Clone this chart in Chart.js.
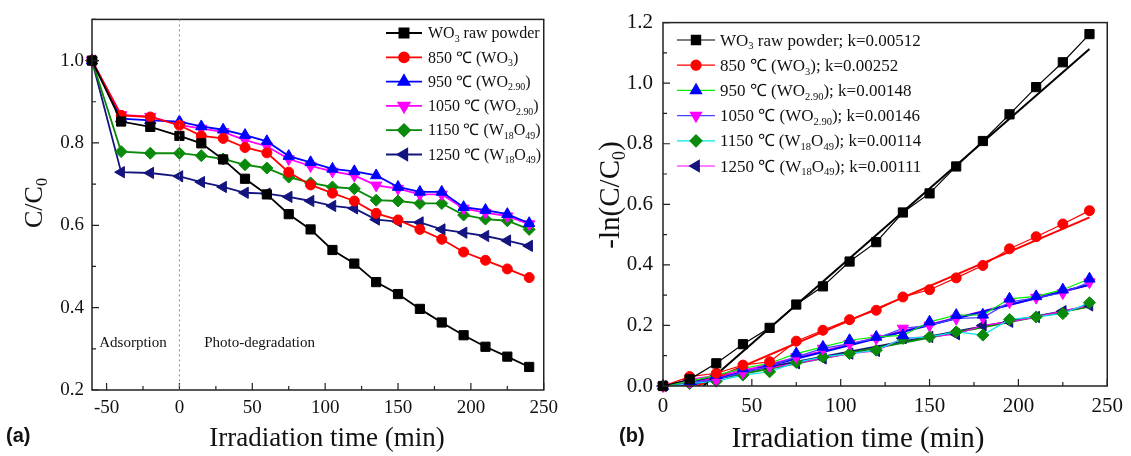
<!DOCTYPE html>
<html>
<head>
<meta charset="utf-8">
<script src="https://cdn.jsdelivr.net/npm/chart.js@4.4.1/dist/chart.umd.min.js"></script>
<style>
  html, body { margin: 0; padding: 0; background: #fff; }
  #wrap { position: relative; width: 1131px; height: 456px; overflow: hidden; }
  .panel { position: absolute; top: 0; height: 456px; }
  .tag { position: absolute; top: 424px; font: bold 20px "Liberation Sans", Arial, sans-serif; color: #111; }
</style>
</head>
<body>
<div id="wrap">
  <div class="panel" style="left:0;width:565px"><canvas id="chartA" width="565" height="456"></canvas></div>
  <div class="panel" style="left:565px;width:566px"><canvas id="chartB" width="566" height="456"></canvas></div>
  <div class="tag" style="left:6px">(a)</div>
  <div class="tag" style="left:619px">(b)</div>
</div>
<script>
// ---- data ----
const SERIF = '"Liberation Serif", "Times New Roman", serif';

// (a) C/C0 vs time, incl. 60 min dark adsorption
const timeA = [-60, -40, -20, 0, 15, 30, 45, 60, 75, 90, 105, 120, 135, 150, 165, 180, 195, 210, 225, 240];
const rawA   = [1.0, 0.852, 0.839, 0.817, 0.799, 0.760, 0.713, 0.675, 0.627, 0.590, 0.540, 0.507, 0.462, 0.433, 0.397, 0.364, 0.333, 0.305, 0.281, 0.256];
const c850A  = [1.0, 0.867, 0.863, 0.843, 0.817, 0.811, 0.789, 0.776, 0.729, 0.698, 0.678, 0.659, 0.629, 0.613, 0.590, 0.566, 0.535, 0.515, 0.494, 0.473];
const c950A  = [1.0, 0.859, 0.855, 0.852, 0.840, 0.832, 0.819, 0.804, 0.768, 0.753, 0.737, 0.731, 0.721, 0.693, 0.681, 0.681, 0.644, 0.637, 0.627, 0.605];
const c1050A = [1.0, 0.868, 0.864, 0.844, 0.835, 0.827, 0.807, 0.792, 0.761, 0.744, 0.731, 0.721, 0.697, 0.689, 0.675, 0.675, 0.641, 0.631, 0.622, 0.603];
const c1150A = [1.0, 0.779, 0.775, 0.775, 0.769, 0.761, 0.747, 0.739, 0.717, 0.703, 0.693, 0.689, 0.661, 0.659, 0.653, 0.653, 0.625, 0.615, 0.611, 0.590];
const c1250A = [1.0, 0.729, 0.727, 0.719, 0.705, 0.693, 0.679, 0.677, 0.669, 0.659, 0.647, 0.641, 0.614, 0.609, 0.607, 0.590, 0.582, 0.574, 0.563, 0.550];

// (b) -ln(C/C0) vs irradiation time
const timeB = [0, 15, 30, 45, 60, 75, 90, 105, 120, 135, 150, 165, 180, 195, 210, 225, 240];
const rawB   = [0, 0.022, 0.075, 0.138, 0.192, 0.269, 0.329, 0.411, 0.475, 0.573, 0.636, 0.725, 0.809, 0.897, 0.987, 1.069, 1.162];
const c850B  = [0, 0.031, 0.042, 0.069, 0.080, 0.148, 0.184, 0.219, 0.250, 0.294, 0.318, 0.357, 0.398, 0.453, 0.493, 0.535, 0.579];
const c950B  = [0, 0.015, 0.036, 0.058, 0.075, 0.107, 0.129, 0.151, 0.162, 0.167, 0.212, 0.234, 0.235, 0.288, 0.296, 0.318, 0.354];
const c1050B = [0, 0.012, 0.020, 0.045, 0.065, 0.096, 0.124, 0.140, 0.157, 0.190, 0.200, 0.223, 0.226, 0.277, 0.292, 0.307, 0.343];
const c1150B = [0, 0.008, 0.016, 0.036, 0.047, 0.078, 0.096, 0.107, 0.118, 0.157, 0.162, 0.179, 0.168, 0.220, 0.228, 0.239, 0.275];
const c1250B = [0, 0.022, 0.035, 0.055, 0.060, 0.075, 0.091, 0.107, 0.116, 0.158, 0.162, 0.171, 0.200, 0.212, 0.228, 0.247, 0.266];

// linear fits: slope k and intercept
const kValues = [0.00512, 0.00252, 0.00148, 0.00146, 0.00114, 0.00111];
const fitIntercepts = [-0.116, -0.048, -0.021, -0.016, -0.011, -0.003];
const fitRange = [0, 240];

const seriesNames = ['WO_{3} raw powder', '850 ℃ (WO_{3})', '950 ℃ (WO_{2.90})', '1050 ℃ (WO_{2.90})', '1150 ℃ (W_{18}O_{49})', '1250 ℃ (W_{18}O_{49})'];

const xTicksA = [-50, 0, 50, 100, 150, 200, 250];
const yTicksA = [0.2, 0.4, 0.6, 0.8, 1.0];
const xTicksB = [0, 50, 100, 150, 200, 250];
const yTicksB = [0, 0.2, 0.4, 0.6, 0.8, 1.0, 1.2];

// ---- styles ----
const markerColors = ['#000000', '#ff0000', '#0000ff', '#ff00ff', '#0a8a0a', '#14147f'];
const markerStyles = ['rect', 'circle', 'triangle', 'triangle', 'rectRot', 'triangle'];
const markerRot = [0, 0, 0, 180, 0, 270];
const markerSize = [6.5, 5, 6.5, 6.5, 6, 6.5];
const lineColorsB = ['#000000', '#ff0000', '#00ee00', '#4444ff', '#00e5e5', '#ff00ff'];

const plain = s => s.replace(/_\{([^}]*)\}/g, '$1');

function drawRich(ctx, str, x, y, size) {
  str.split(/(_\{[^}]*\})/).forEach(p => {
    if (!p) return;
    const sub = p.startsWith('_{');
    const t = sub ? p.slice(2, -1) : p;
    const fs = sub ? size * 0.62 : size;
    ctx.font = fs + 'px ' + SERIF;
    ctx.fillText(t, x, sub ? y + size * 0.22 : y);
    x += ctx.measureText(t).width;
  });
  return x;
}
function richWidth(ctx, str, size) {
  let w = 0;
  str.split(/(_\{[^}]*\})/).forEach(p => {
    if (!p) return;
    const sub = p.startsWith('_{');
    const t = sub ? p.slice(2, -1) : p;
    ctx.font = (sub ? size * 0.62 : size) + 'px ' + SERIF;
    w += ctx.measureText(t).width;
  });
  return w;
}
function mids(arr) {
  const out = [];
  for (let i = 0; i < arr.length - 1; i++) out.push((arr[i] + arr[i + 1]) / 2);
  return out;
}

// frame, inward ticks, legend, titles, notes
const decor = {
  id: 'decor',
  afterDatasetsDraw(chart, args, o) {
    const {ctx, chartArea: a, scales: {x, y}} = chart;
    ctx.save();
    ctx.strokeStyle = '#222';
    ctx.lineWidth = 1.5;
    ctx.strokeRect(a.left, a.top, a.right - a.left, a.bottom - a.top);
    ctx.lineWidth = 1.2;
    ctx.beginPath();
    o.xMajor.forEach(v => { const p = x.getPixelForValue(v); ctx.moveTo(p, a.bottom); ctx.lineTo(p, a.bottom - 7); });
    mids(o.xMajor).forEach(v => { const p = x.getPixelForValue(v); ctx.moveTo(p, a.bottom); ctx.lineTo(p, a.bottom - 4); });
    o.yMajor.forEach(v => { const p = y.getPixelForValue(v); ctx.moveTo(a.left, p); ctx.lineTo(a.left + 7, p); });
    mids(o.yMajor.concat(o.yExtra || [])).forEach(v => { const p = y.getPixelForValue(v); ctx.moveTo(a.left, p); ctx.lineTo(a.left + 4, p); });
    ctx.stroke();

    // legend
    const L = o.legend;
    ctx.textBaseline = 'alphabetic';
    ctx.textAlign = 'left';
    chart.data.datasets.filter(d => d.legendText).forEach((d, i) => {
      const cy = L.y + i * L.dy;
      ctx.strokeStyle = d.legendLine || d.borderColor;
      ctx.lineWidth = L.lineWidth;
      ctx.beginPath();
      ctx.moveTo(L.x, cy);
      ctx.lineTo(L.x + L.len, cy);
      ctx.stroke();
      ctx.fillStyle = d.pointBackgroundColor;
      ctx.strokeStyle = d.pointBorderColor;
      Chart.helpers.drawPoint(ctx, {pointStyle: d.pointStyle, rotation: d.pointRotation, radius: d.pointRadius, borderWidth: 1}, L.x + L.len / 2, cy);
      ctx.fillStyle = '#111';
      drawRich(ctx, d.legendText, L.x + L.len + L.gap, cy + L.size * 0.33, L.size);
    });

    // axis titles
    ctx.fillStyle = '#111';
    o.titles.forEach(t => {
      ctx.save();
      ctx.translate(t.cx, t.cy);
      ctx.rotate(t.rot || 0);
      drawRich(ctx, t.text, -richWidth(ctx, t.text, t.size) / 2, t.size * 0.33, t.size);
      ctx.restore();
    });

    // notes in data space
    (o.notes || []).forEach(n => {
      ctx.font = n.size + 'px ' + SERIF;
      ctx.fillText(n.text, x.getPixelForValue(n.x), y.getPixelForValue(n.y));
    });
    if (o.divider !== undefined) {
      const p = x.getPixelForValue(o.divider);
      ctx.strokeStyle = '#888';
      ctx.lineWidth = 1;
      ctx.setLineDash([2, 3]);
      ctx.beginPath();
      ctx.moveTo(p, a.top);
      ctx.lineTo(p, a.bottom);
      ctx.stroke();
    }
    ctx.restore();
  }
};

function pts(xs, ys) { return xs.map((t, i) => ({x: t, y: ys[i]})); }

function axes(xr, yr, xt, yt, yW, xH, fs, pad) {
  return {
    x: {
      type: 'linear', min: xr[0], max: xr[1],
      grid: {display: false, drawTicks: false}, border: {display: false},
      ticks: {color: '#111', font: {family: SERIF, size: fs}, padding: pad[0], maxRotation: 0, callback: v => String(v)},
      afterBuildTicks: s => { s.ticks = xt.map(v => ({value: v})); },
      afterFit: s => { s.height = xH; }
    },
    y: {
      type: 'linear', min: yr[0], max: yr[1],
      grid: {display: false, drawTicks: false}, border: {display: false},
      ticks: {color: '#111', font: {family: SERIF, size: fs}, padding: pad[1], callback: v => v.toFixed(1)},
      afterBuildTicks: s => { s.ticks = yt.map(v => ({value: v})); },
      afterFit: s => { s.width = yW; }
    }
  };
}

const seriesA = [rawA, c850A, c950A, c1050A, c1150A, c1250A];
const dsA = seriesA.map((arr, i) => ({
  label: plain(seriesNames[i]),
  legendText: seriesNames[i],
  data: pts(timeA, arr),
  borderColor: markerColors[i],
  borderWidth: 1.8,
  pointStyle: markerStyles[i],
  pointRotation: markerRot[i],
  pointRadius: markerSize[i],
  pointBackgroundColor: markerColors[i],
  pointBorderColor: markerColors[i],
  pointBorderWidth: 1,
  clip: false
}));

new Chart(document.getElementById('chartA'), {
  type: 'line',
  data: {datasets: dsA},
  options: {
    responsive: false, animation: false,
    layout: {padding: {top: 14, right: 12, left: 0, bottom: 0}},
    scales: axes([-60, 250], [0.2, 1.1], xTicksA, yTicksA, 92, 66, 19, [7, 8]),
    plugins: {
      legend: {display: false}, tooltip: {enabled: false},
      decor: {
        xMajor: xTicksA, yMajor: yTicksA, yExtra: [1.2],
        legend: {x: 386, y: 33, dy: 24.3, len: 36, gap: 6, size: 16, lineWidth: 1.8},
        titles: [
          {text: 'C/C_{0}', cx: 33, cy: 203, size: 26, rot: -Math.PI / 2},
          {text: 'Irradiation time (min)', cx: 327, cy: 437, size: 27}
        ],
        notes: [
          {text: 'Adsorption', x: -55, y: 0.305, size: 15},
          {text: 'Photo-degradation', x: 17, y: 0.305, size: 15}
        ],
        divider: 0
      }
    }
  },
  plugins: [decor]
});

const seriesB = [rawB, c850B, c950B, c1050B, c1150B, c1250B];
const dsB = seriesB.map((arr, i) => ({
  label: plain(seriesNames[i]),
  legendText: seriesNames[i] + '; k=' + kValues[i].toFixed(5),
  legendLine: lineColorsB[i],
  data: pts(timeB, arr),
  borderColor: lineColorsB[i],
  borderWidth: 1.2,
  pointStyle: markerStyles[i],
  pointRotation: markerRot[i],
  pointRadius: markerSize[i],
  pointBackgroundColor: markerColors[i],
  pointBorderColor: markerColors[i],
  pointBorderWidth: 1,
  clip: false
}));
const fitsB = kValues.map((k, i) => ({
  label: plain(seriesNames[i]) + ' fit',
  data: fitRange.map(t => ({x: t, y: fitIntercepts[i] + k * t})),
  borderColor: markerColors[i],
  borderWidth: 2,
  pointRadius: 0
}));

new Chart(document.getElementById('chartB'), {
  type: 'line',
  data: {datasets: dsB.concat(fitsB)},
  options: {
    responsive: false, animation: false,
    layout: {padding: {top: 21, right: 18, left: 0, bottom: 0}},
    scales: axes([0, 250], [0, 1.2], xTicksB, yTicksB, 98, 70, 21, [8, 10]),
    plugins: {
      legend: {display: false}, tooltip: {enabled: false},
      decor: {
        xMajor: xTicksB, yMajor: yTicksB,
        legend: {x: 112, y: 40, dy: 25.2, len: 38, gap: 5, size: 17, lineWidth: 1.2},
        titles: [
          {text: '-ln(C/C_{0})', cx: 44, cy: 195, size: 29, rot: -Math.PI / 2},
          {text: 'Irradiation time (min)', cx: 293, cy: 437, size: 29}
        ]
      }
    }
  },
  plugins: [decor]
});
</script>
</body>
</html>
